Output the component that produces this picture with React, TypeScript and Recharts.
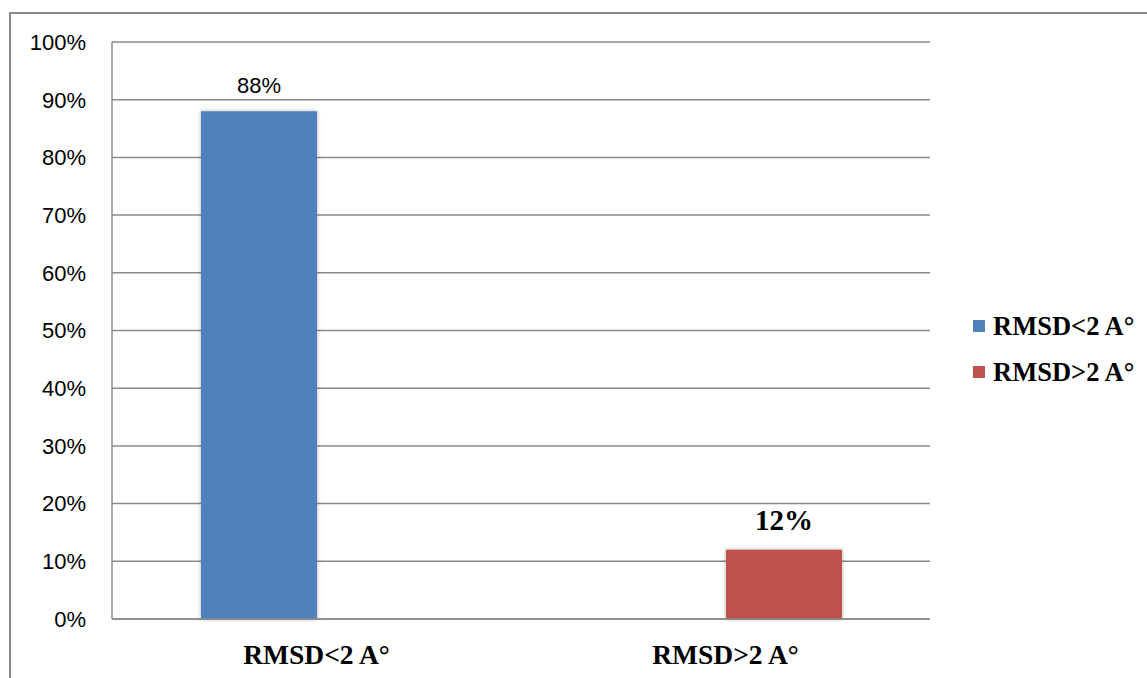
import React from "react";
import { BarChart, Bar, XAxis, YAxis, CartesianGrid, Legend, LabelList, Rectangle } from "recharts";

const categories = ["RMSD<2 A°", "RMSD>2 A°"];
const seriesNames = ["RMSD<2 A°", "RMSD>2 A°"];
const lowValues = [88, 0];
const highValues = [0, 12];
const yTicks = [0, 10, 20, 30, 40, 50, 60, 70, 80, 90, 100];
const colors = ["#4F81BD", "#C0504D"];

const data = categories.map((c, i) => ({ name: c, low: lowValues[i], high: highValues[i] }));

const XTick = (props: any) => {
  const { x, y, payload } = props;
  return (
    <text x={x} y={y + 43} textAnchor="middle" fontFamily="'Liberation Serif', serif" fontWeight="bold" fontSize={27.5} fill="#000">
      {payload.value}
    </text>
  );
};

const LowLabel = (props: any) => {
  const { x, y, width, value } = props;
  if (!value) return null;
  return (
    <text x={x + width / 2} y={y - 18} textAnchor="middle" fontFamily="'Liberation Sans', Arial, sans-serif" fontSize={22} fill="#000">
      {value}%
    </text>
  );
};

const HighLabel = (props: any) => {
  const { x, y, width, value } = props;
  if (!value) return null;
  return (
    <text x={x + width / 2} y={y - 20} textAnchor="middle" fontFamily="'Liberation Serif', serif" fontWeight="bold" fontSize={29} fill="#000">
      {value}%
    </text>
  );
};

const ShadowBar = (props: any) => {
  if (!props.height) return null;
  return <Rectangle {...props} style={{ filter: "drop-shadow(0px 0px 2px rgba(0,0,0,0.3))" }} />;
};

const LegendContent = (props: any) => {
  const { payload } = props;
  return (
    <div>
      {(payload || []).map((p: any, i: number) => (
        <div key={i} style={{ display: "flex", alignItems: "center", height: 46 }}>
          <div style={{ width: 12, height: 12, background: p.color, marginRight: 8 }} />
          <span style={{ fontFamily: "'Liberation Serif', serif", fontWeight: "bold", fontSize: 26.5, color: "#000" }}>{p.value}</span>
        </div>
      ))}
    </div>
  );
};

export default function App() {
  return (
    <div style={{ position: "absolute", left: 0, top: 0, width: 1147, height: 678, background: "#fff", overflow: "hidden" }}>
      <div style={{ position: "absolute", left: 9, top: 12, width: 1300, height: 800, border: "2px solid #8a8a8a", boxSizing: "border-box" }} />
      <BarChart
        width={1147}
        height={678}
        data={data}
        margin={{ top: 42, right: 217, left: 12, bottom: 19 }}
        barGap={0}
        barSize={116}
      >
        <CartesianGrid vertical={false} stroke="#8a8a8a" strokeWidth={1.5} />
        <XAxis
          dataKey="name"
          height={40}
          axisLine={{ stroke: "#8a8a8a", strokeWidth: 1.5 }}
          tickLine={false}
          tickSize={0}
          tick={<XTick />}
          interval={0}
        />
        <YAxis
          width={100}
          domain={[0, 100]}
          ticks={yTicks}
          tickFormatter={(v: number) => `${v}%`}
          axisLine={{ stroke: "#8a8a8a", strokeWidth: 1.5 }}
          tickLine={false}
          tickSize={0}
          tickMargin={26}
          tick={{ fontFamily: "'Liberation Sans', Arial, sans-serif", fontSize: 22, fill: "#000" }}
        />
        <Legend
          layout="vertical"
          align="center"
          verticalAlign="middle"
          wrapperStyle={{ position: "absolute", left: 973, top: 303, width: 174 }}
          content={<LegendContent />}
        />
        <Bar dataKey="low" name={seriesNames[0]} fill={colors[0]} isAnimationActive={false} shape={<ShadowBar />}>
          <LabelList dataKey="low" content={<LowLabel />} />
        </Bar>
        <Bar dataKey="high" name={seriesNames[1]} fill={colors[1]} isAnimationActive={false} shape={<ShadowBar />}>
          <LabelList dataKey="high" content={<HighLabel />} />
        </Bar>
      </BarChart>
    </div>
  );
}
